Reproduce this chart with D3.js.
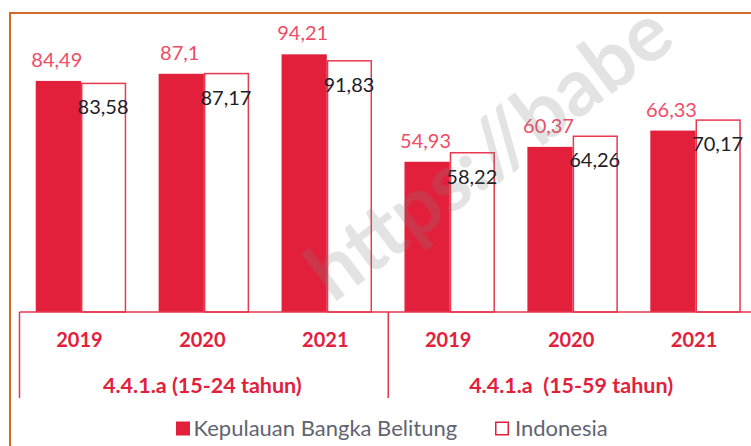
<!DOCTYPE html>
<html>
<head>
<meta charset="utf-8">
<script src="https://cdn.jsdelivr.net/npm/d3@7"></script>
<style>
  html, body { margin: 0; padding: 0; background: #fff; }
  svg { display: block; }
  text { font-family: Lato, "Open Sans", sans-serif; }
</style>
</head>
<body>
<div id="vis"></div>
<script>
// data
const groups = ["4.4.1.a (15-24 tahun)", "4.4.1.a\u00a0 (15-59 tahun)"];
const years = ["2019", "2020", "2021"];
const series = ["Kepulauan Bangka Belitung", "Indonesia"];
const babelValues = [84.49, 87.1, 94.21, 54.93, 60.37, 66.33];
const indoValues = [83.58, 87.17, 91.83, 58.22, 64.26, 70.17];
const valueLabels = [
    ["84,49", "87,1", "94,21", "54,93", "60,37", "66,33"],
    ["83,58", "87,17", "91,83", "58,22", "64,26", "70,17"]
];

const width = 751, height = 446;
const RED = "#e3203c";
const LABEL_RED = "#ef4d68";

const svg = d3.select("#vis").append("svg")
    .attr("width", width)
    .attr("height", height);

// categories = group x year
const cats = [];
groups.forEach((g, gi) => years.forEach((y, yi) => cats.push({ key: gi + "-" + y, group: gi, year: y })));
const rows = cats.map((c, i) => ({ ...c, values: [babelValues[i], indoValues[i]], labels: [valueLabels[0][i], valueLabels[1][i]] }));

const baseY = 312;
const x0 = d3.scaleBand()
    .domain(cats.map(d => d.key))
    .range([19.5, 757])
    .paddingInner(0.264)
    .paddingOuter(0.132);
const x1 = d3.scaleBand()
    .domain(series)
    .range([0, x0.bandwidth()])
    .padding(0);
const y = d3.scaleLinear()
    .domain([0, 100])
    .range([baseY, 38.5]);

// orange frame
svg.append("path")
    .attr("d", `M10,446 V13 H${width}`)
    .attr("fill", "none")
    .attr("stroke", "#d2692a")
    .attr("stroke-width", 2);

const g = svg.append("g");

const cat = g.selectAll(".cat")
    .data(rows)
    .join("g")
    .attr("class", "cat")
    .attr("transform", d => `translate(${x0(d.key)},0)`);

// Indonesia (outlined) bars
cat.append("rect")
    .attr("x", x1(series[1]) + 0.75)
    .attr("y", d => y(d.values[1]))
    .attr("width", x1.bandwidth() - 1.5)
    .attr("height", d => baseY - y(d.values[1]))
    .attr("fill", "#fff")
    .attr("stroke", "#e8394f")
    .attr("stroke-width", 1.5);

// Bangka Belitung (filled) bars
cat.append("rect")
    .attr("x", x1(series[0]))
    .attr("y", d => y(d.values[0]))
    .attr("width", x1.bandwidth())
    .attr("height", d => baseY - y(d.values[0]))
    .attr("fill", RED);

// value labels
cat.append("text")
    .attr("x", x1(series[0]) + x1.bandwidth() / 2 - 1.5)
    .attr("y", d => y(d.values[0]) - 21)
    .attr("dy", "0.35em")
    .attr("text-anchor", "middle")
    .attr("fill", LABEL_RED)
    .style("font-size", "20px")
    .text(d => d.labels[0]);

cat.append("text")
    .attr("x", x1(series[1]) + x1.bandwidth() / 2 - 0.5)
    .attr("y", d => y(d.values[1]) + 24)
    .attr("dy", "0.35em")
    .attr("text-anchor", "middle")
    .attr("fill", "#1e1e28")
    .style("font-size", "20px")
    .text(d => d.labels[1]);

// x axis: baseline, group separators, year labels, group labels
const axisCol = "#e4374f";
g.append("line")
    .attr("x1", 19.5).attr("x2", width)
    .attr("y1", baseY).attr("y2", baseY)
    .attr("stroke", axisCol)
    .attr("stroke-width", 1.5);

const step = x0.step();
const groupEdges = groups.map((gr, i) => 19.5 + i * years.length * step);
g.selectAll(".sep")
    .data(groupEdges)
    .join("line")
    .attr("class", "sep")
    .attr("x1", d => d).attr("x2", d => d)
    .attr("y1", baseY).attr("y2", 398)
    .attr("stroke", axisCol)
    .attr("stroke-width", 1.5);

g.selectAll(".year")
    .data(cats)
    .join("text")
    .attr("class", "year")
    .attr("x", d => x0(d.key) + x0.bandwidth() / 2 - 1.5)
    .attr("y", 340)
    .attr("dy", "0.35em")
    .attr("text-anchor", "middle")
    .attr("fill", RED)
    .style("font-size", "20px")
    .style("font-weight", "bold")
    .text(d => d.year);

g.selectAll(".glabel")
    .data(groups)
    .join("text")
    .attr("class", "glabel")
    .attr("x", (d, i) => groupEdges[i] + years.length * step / 2 - 1.5)
    .attr("y", 385)
    .attr("dy", "0.35em")
    .attr("text-anchor", "middle")
    .attr("fill", RED)
    .style("font-size", "21.5px")
    .style("font-weight", "bold")
    .text(d => d);

// watermark
svg.append("text")
    .attr("transform", "translate(333,304) rotate(-37)")
    .attr("fill", "#808080")
    .attr("fill-opacity", 0.22)
    .style("font-size", "80px")
    .style("font-weight", "bold")
    .text("https://babe");

// legend
const legend = svg.append("g").attr("transform", "translate(0,428.5)");
const legendX = [176, 495];
const item = legend.selectAll(".item")
    .data(series)
    .join("g")
    .attr("class", "item")
    .attr("transform", (d, i) => `translate(${legendX[i]},0)`);
item.append("rect")
    .attr("x", (d, i) => i ? 0.75 : 0)
    .attr("y", (d, i) => i ? -6.25 : -7)
    .attr("width", (d, i) => i ? 12.5 : 14)
    .attr("height", (d, i) => i ? 12.5 : 14)
    .attr("fill", (d, i) => i ? "#fff" : RED)
    .attr("stroke", (d, i) => i ? RED : "none")
    .attr("stroke-width", 1.5);
item.append("text")
    .attr("x", (d, i) => i ? 20 : 17.5)
    .attr("y", 0)
    .attr("dy", "0.35em")
    .attr("fill", "#5f6470")
    .style("font-size", "22px")
    .text(d => d);
</script>
</body>
</html>
